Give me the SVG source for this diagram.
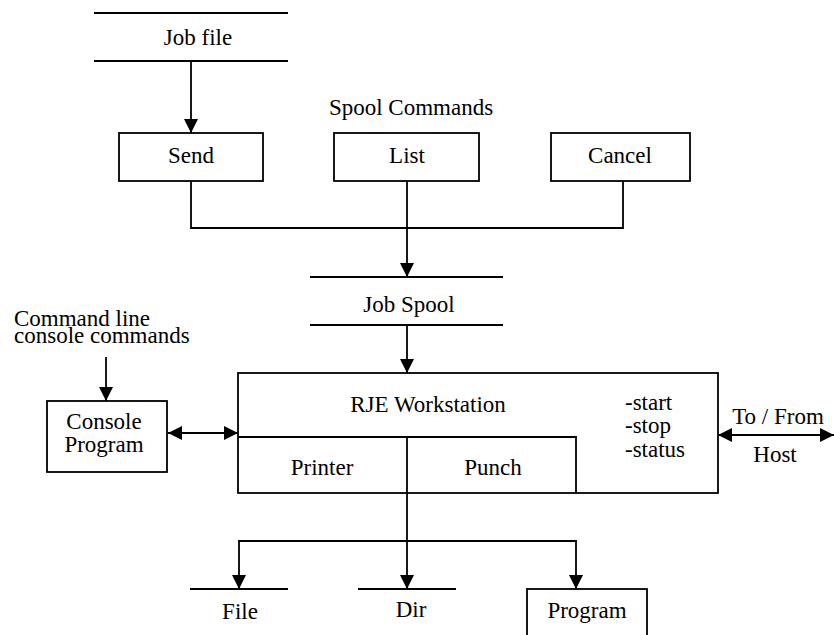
<svg xmlns="http://www.w3.org/2000/svg" width="834" height="635" viewBox="0 0 834 635" font-family="'Liberation Serif', 'Times New Roman', 'DejaVu Serif', serif" font-size="23">
<defs>
<style>
.m{text-anchor:middle}
.s{fill:none;stroke:#000;stroke-width:1.8}
.b{fill:#fff;stroke:#000;stroke-width:1.8}
</style>
<marker id="ah" markerUnits="userSpaceOnUse" markerWidth="14" markerHeight="14" refX="14" refY="7" orient="auto-start-reverse" viewBox="0 0 14 14">
<path d="M0,0 L14,7 L0,14 z" fill="#000"/>
</marker>
</defs>
<rect width="834" height="635" fill="#fff"/>
<g id="connectors">
<line class="s" x1="191" y1="61" x2="191" y2="133" marker-end="url(#ah)"/>
<polyline class="s" points="191,181 191,228 623,228 623,181"/>
<line class="s" x1="407" y1="181" x2="407" y2="277" marker-end="url(#ah)"/>
<line class="s" x1="407" y1="325" x2="407" y2="373" marker-end="url(#ah)"/>
<line class="s" x1="106" y1="357" x2="106" y2="401" marker-end="url(#ah)"/>
<line class="s" x1="168" y1="433" x2="238" y2="433" marker-start="url(#ah)" marker-end="url(#ah)"/>
<line class="s" x1="718" y1="435" x2="834" y2="435" marker-start="url(#ah)" marker-end="url(#ah)"/>
<line class="s" x1="407" y1="493" x2="407" y2="589" marker-end="url(#ah)"/>
<polyline class="s" points="239,589 239,541 576,541 576,589" marker-start="url(#ah)" marker-end="url(#ah)"/>
</g>
<g id="jobfile">
<line class="s" x1="94" y1="13" x2="288" y2="13"/>
<line class="s" x1="94" y1="61" x2="288" y2="61"/>
<text class="m" x="198" y="45">Job file</text>
</g>
<g id="spoolcommands"><text class="m" x="411" y="115">Spool Commands</text></g>
<g id="send"><rect class="b" x="119" y="133" width="144" height="48"/><text class="m" x="191" y="163">Send</text></g>
<g id="list"><rect class="b" x="334" y="133" width="145" height="48"/><text class="m" x="407" y="163">List</text></g>
<g id="cancel"><rect class="b" x="551" y="133" width="139" height="48"/><text class="m" x="620" y="163">Cancel</text></g>
<g id="jobspool">
<line class="s" x1="310" y1="277" x2="503" y2="277"/>
<line class="s" x1="310" y1="325" x2="503" y2="325"/>
<text class="m" x="409" y="312">Job Spool</text>
</g>
<g id="cmdline">
<text x="14" y="326">Command line</text>
<text x="14" y="343">console commands</text>
</g>
<g id="console">
<rect class="b" x="47" y="401" width="120" height="71"/>
<text class="m" x="104" y="429">Console</text>
<text class="m" x="104" y="452">Program</text>
</g>
<g id="rje">
<rect class="s" x="238" y="373" width="480" height="120"/>
<polyline class="s" points="238,437 576,437 576,493"/>
<line class="s" x1="407" y1="437" x2="407" y2="493"/>
<text class="m" x="428" y="412">RJE Workstation</text>
<text class="m" x="322" y="475">Printer</text>
<text class="m" x="493" y="475">Punch</text>
<text x="625" y="410">-start</text>
<text x="625" y="433">-stop</text>
<text x="625" y="457">-status</text>
</g>
<g id="host">
<text class="m" x="778" y="424">To / From</text>
<text class="m" x="775" y="462">Host</text>
</g>
<g id="file">
<line class="s" x1="190" y1="589" x2="288" y2="589"/>
<text class="m" x="240" y="619">File</text>
</g>
<g id="dir">
<line class="s" x1="358" y1="589" x2="456" y2="589"/>
<text class="m" x="411" y="617">Dir</text>
</g>
<g id="program">
<rect class="b" x="527" y="589" width="120" height="50"/>
<text class="m" x="587" y="618">Program</text>
</g>
</svg>
